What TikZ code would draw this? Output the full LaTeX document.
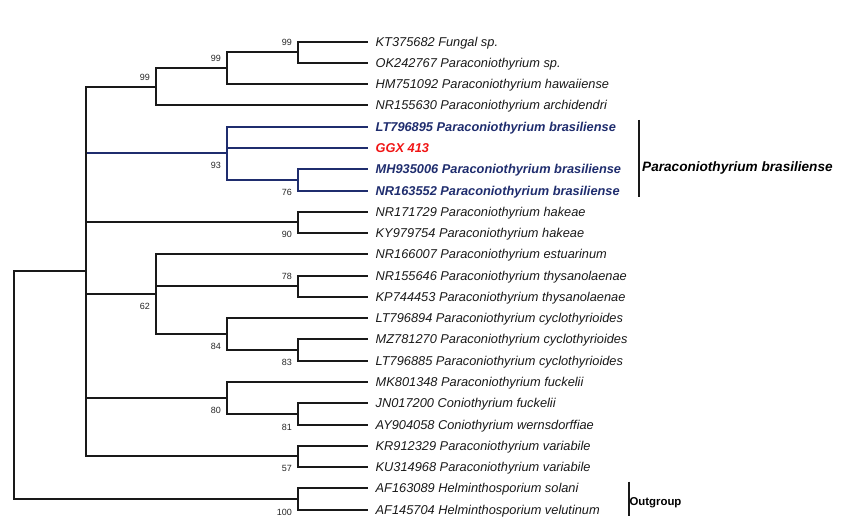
\documentclass[tikz,border=0pt]{standalone}
\usepackage{fontspec}
\setmainfont{Liberation Sans}
\definecolor{navy}{RGB}{31,45,110}
\definecolor{ggxred}{RGB}{240,20,20}
\begin{document}
\begin{tikzpicture}[x=1pt,y=-1pt,
  br/.style={line width=2pt,draw=black!90},
  bl/.style={line width=1.8pt,draw=navy},
  leaf/.style={font=\fontsize{12.8}{15}\selectfont\itshape,inner sep=0pt,anchor=base west,text=black!90},
  leafb/.style={leaf,font=\fontsize{12.8}{15}\selectfont\bfseries\itshape,text=navy},
  leafr/.style={leaf,font=\fontsize{12.8}{15}\selectfont\bfseries\itshape,text=ggxred},
  bs/.style={font=\fontsize{9}{10}\selectfont,inner sep=0pt,anchor=east,text=black!85},
  lshift/.style={xshift=7.5pt,yshift=-4.6pt}]
\useasboundingbox (0,0) rectangle (855,524);
% leaves
\coordinate (L0) at (368,42);
\coordinate (L1) at (368,63);
\coordinate (L2) at (368,84);
\coordinate (L3) at (368,105);
\coordinate (L4) at (368,127);
\coordinate (L5) at (368,148);
\coordinate (L6) at (368,169);
\coordinate (L7) at (368,191);
\coordinate (L8) at (368,212);
\coordinate (L9) at (368,233);
\coordinate (L10) at (368,254);
\coordinate (L11) at (368,276);
\coordinate (L12) at (368,297);
\coordinate (L13) at (368,318);
\coordinate (L14) at (368,339);
\coordinate (L15) at (368,361);
\coordinate (L16) at (368,382);
\coordinate (L17) at (368,403);
\coordinate (L18) at (368,425);
\coordinate (L19) at (368,446);
\coordinate (L20) at (368,467);
\coordinate (L21) at (368,488);
\coordinate (L22) at (368,510);
% internal nodes
\coordinate (n1) at (298,52);
\coordinate (n2) at (227,68);
\coordinate (n3) at (156,87);
\coordinate (n5) at (298,180);
\coordinate (n4) at (227,153);
\coordinate (n6) at (298,222);
\coordinate (n7) at (298,286);
\coordinate (n8) at (298,350);
\coordinate (n9) at (227,334);
\coordinate (n10) at (156,294);
\coordinate (n11) at (298,414);
\coordinate (n12) at (227,398);
\coordinate (n13) at (298,456);
\coordinate (n14) at (298,499);
\coordinate (M) at (86,271);
\coordinate (R) at (14,385);
% branches
\draw[br] (n1) |- (L0); \draw[br] (n1) |- (L1);
\draw[br] (n2) |- (n1); \draw[br] (n2) |- (L2);
\draw[br] (n3) |- (n2); \draw[br] (n3) |- (L3);
\draw[bl] (n5) |- (L6); \draw[bl] (n5) |- (L7);
\draw[bl] (n4) |- (L4); \draw[bl] (n4) |- (L5); \draw[bl] (n4) |- (n5);
\draw[bl] (M |- n4) -- (n4);
\draw[br] (n6) |- (L8); \draw[br] (n6) |- (L9);
\draw[br] (n7) |- (L11); \draw[br] (n7) |- (L12);
\draw[br] (n8) |- (L14); \draw[br] (n8) |- (L15);
\draw[br] (n9) |- (L13); \draw[br] (n9) |- (n8);
\draw[br] (n10) |- (L10); \draw[br] (n10) |- (n7); \draw[br] (n10) |- (n9);
\draw[br] (n11) |- (L17); \draw[br] (n11) |- (L18);
\draw[br] (n12) |- (L16); \draw[br] (n12) |- (n11);
\draw[br] (n13) |- (L19); \draw[br] (n13) |- (L20);
\draw[br] (n14) |- (L21); \draw[br] (n14) |- (L22);
\draw[br] (M) |- (n3); \draw[br] (M) |- (n6); \draw[br] (M) |- (n10);
\draw[br] (M) |- (n12); \draw[br] (M) |- (n13);
\draw[br] (R) |- (M); \draw[br] (R) |- (n14);
% leaf labels
\node[leaf] (t0) at ([lshift]L0) {KT375682 Fungal sp.};
\node[leaf] (t1) at ([lshift]L1) {OK242767 Paraconiothyrium sp.};
\node[leaf] (t2) at ([lshift]L2) {HM751092 Paraconiothyrium hawaiiense};
\node[leaf] (t3) at ([lshift]L3) {NR155630 Paraconiothyrium archidendri};
\node[leafb] (t4) at ([lshift]L4) {LT796895 Paraconiothyrium brasiliense};
\node[leafr] (t5) at ([lshift]L5) {GGX 413};
\node[leafb] (t6) at ([lshift]L6) {MH935006 Paraconiothyrium brasiliense};
\node[leafb] (t7) at ([lshift]L7) {NR163552 Paraconiothyrium brasiliense};
\node[leaf] (t8) at ([lshift]L8) {NR171729 Paraconiothyrium hakeae};
\node[leaf] (t9) at ([lshift]L9) {KY979754 Paraconiothyrium hakeae};
\node[leaf] (t10) at ([lshift]L10) {NR166007 Paraconiothyrium estuarinum};
\node[leaf] (t11) at ([lshift]L11) {NR155646 Paraconiothyrium thysanolaenae};
\node[leaf] (t12) at ([lshift]L12) {KP744453 Paraconiothyrium thysanolaenae};
\node[leaf] (t13) at ([lshift]L13) {LT796894 Paraconiothyrium cyclothyrioides};
\node[leaf] (t14) at ([lshift]L14) {MZ781270 Paraconiothyrium cyclothyrioides};
\node[leaf] (t15) at ([lshift]L15) {LT796885 Paraconiothyrium cyclothyrioides};
\node[leaf] (t16) at ([lshift]L16) {MK801348 Paraconiothyrium fuckelii};
\node[leaf] (t17) at ([lshift]L17) {JN017200 Coniothyrium fuckelii};
\node[leaf] (t18) at ([lshift]L18) {AY904058 Coniothyrium wernsdorffiae};
\node[leaf] (t19) at ([lshift]L19) {KR912329 Paraconiothyrium variabile};
\node[leaf] (t20) at ([lshift]L20) {KU314968 Paraconiothyrium variabile};
\node[leaf] (t21) at ([lshift]L21) {AF163089 Helminthosporium solani};
\node[leaf] (t22) at ([lshift]L22) {AF145704 Helminthosporium velutinum};
% bootstrap values
\node[bs] (b1) at ([xshift=-6pt,yshift=10pt]n1) {99};
\node[bs] (b2) at ([xshift=-6pt,yshift=10pt]n2) {99};
\node[bs] (b3) at ([xshift=-6pt,yshift=10pt]n3) {99};
\node[bs] (b4) at ([xshift=-6pt,yshift=-12.5pt]n4) {93};
\node[bs] (b5) at ([xshift=-6pt,yshift=-12.5pt]n5) {76};
\node[bs] (b6) at ([xshift=-6pt,yshift=-12.5pt]n6) {90};
\node[bs] (b7) at ([xshift=-6pt,yshift=9.5pt]n7) {78};
\node[bs] (b8) at ([xshift=-6pt,yshift=-12.5pt]n8) {83};
\node[bs] (b9) at ([xshift=-6pt,yshift=-12.5pt]n9) {84};
\node[bs] (b10) at ([xshift=-6pt,yshift=-12.5pt]n10) {62};
\node[bs] (b11) at ([xshift=-6pt,yshift=-13pt]n11) {81};
\node[bs] (b12) at ([xshift=-6pt,yshift=-12.5pt]n12) {80};
\node[bs] (b13) at ([xshift=-6pt,yshift=-12.5pt]n13) {57};
\node[bs] (b14) at ([xshift=-6pt,yshift=-13pt]n14) {100};
% clade brackets
\coordinate (c1t) at (639,120);
\coordinate (c1b) at (639,197);
\draw[line width=1.6pt,black!90] (c1t) -- (c1b);
\node[inner sep=0pt,anchor=base west,font=\fontsize{13.6}{16}\selectfont\bfseries\itshape] (cl1) at (642,171.6) {Paraconiothyrium brasiliense};
\coordinate (c2t) at (628.7,481.7);
\coordinate (c2b) at (628.7,515.7);
\draw[line width=2pt,black!90] (c2t) -- (c2b);
\node[inner sep=0pt,anchor=base west,font=\fontsize{11.4}{13}\selectfont\bfseries] (cl2) at (629.3,505.8) {Outgroup};
\end{tikzpicture}
\end{document}
